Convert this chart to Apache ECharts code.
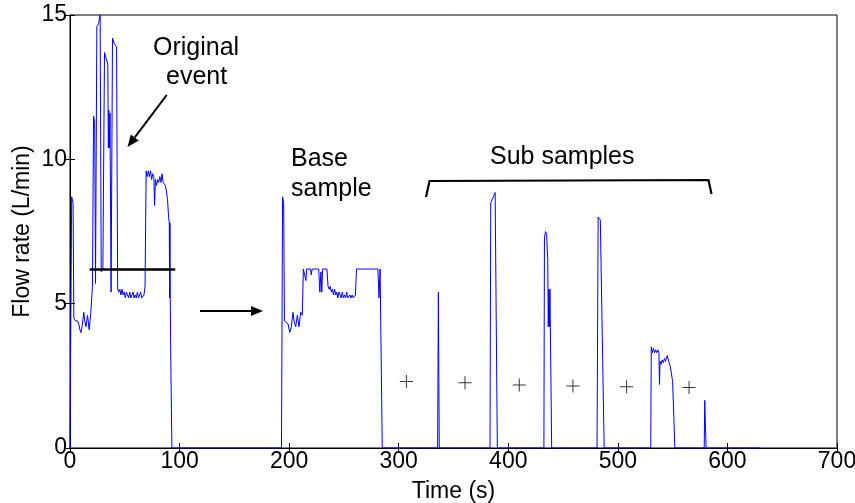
<!DOCTYPE html>
<html>
<head>
<meta charset="utf-8">
<script src="https://cdn.jsdelivr.net/npm/echarts@6/dist/echarts.min.js"></script>
<style>
  html, body { margin: 0; padding: 0; background: #fff; }
  #chart { width: 855px; height: 503px; }
</style>
</head>
<body>
<div id="chart"></div>
<script>
// flow trace: [time (s), flow (L/min)]
const originalEvent = [
  [0,0],[1.5,8.7],[2.8,8.5],[3.5,4.5],[5,4.4],[7,4.4],[8,4.3],[9,4.1],[10,4.0],[11,4.2],
  [12.6,4.7],[13.5,4.4],[14.6,4.2],[16,4.6],[17.5,4.1],[19,4.7],[20.5,5.6],[21.5,11.5],
  [22.5,11.3],[23.3,5.7],[24.5,14.6],[26,14.7],[27.5,15],[28.5,6.1],[30,6.2],[31.5,13.7],
  [33,13.5],[34.5,13.3],[35,10.4],[35.5,11.7],[36,10.4],[36.5,11.6],[37.5,5.4],[38.8,14.2],
  [40.5,14.0],[42.5,13.9],[43.5,5.5],[44.5,5.4],[45.5,5.5],[46.5,5.3],[47.5,5.5],[48.5,5.3],
  [49.5,5.4],[50.5,5.2],[51.5,5.4],[52.5,5.3],[53.5,5.2],[54.5,5.4],[55.5,5.2],[56.5,5.2],
  [57.5,5.4],[58.5,5.2],[59.5,5.3],[60.5,5.2],[61.5,5.4],[62.5,5.2],[63.5,5.2],[64.5,5.4],
  [65.5,5.2],[66.5,5.2],[67.5,5.3],[68.5,5.6],[69.5,9.6],[70.5,9.4],[71.5,9.6],[72.5,9.4],
  [73.5,9.6],[74.5,9.3],[75.5,9.5],[76.5,9.4],[77.2,8.4],[78,9.3],[79,9.1],[80,9.3],[81,9.2],
  [82,9.4],[83,9.2],[84,9.5],[85,9.2],[86,9.2],[87,9.1],[88,8.9],[89,8.6],[90,8.0],[90.6,7.8],
  [90.9,5.2],[91.2,7.8],[91.5,5.2],[92,3.0],[93,0]
];
const baseSample = [
  [193,0],[194,8.7],[195,8.5],[195.7,4.4],[197,4.4],[199,4.3],[200.5,4.0],[202,4.2],[203.5,4.7],
  [204.5,4.4],[206,4.2],[207.5,4.6],[209,4.2],[210.5,4.7],[212,4.6],[213,6.2],[214.5,6.2],
  [215.3,5.8],[216,6.2],[219.5,6.2],[220.2,6.0],[221,6.2],[227,6.2],[228,5.4],[229,6.1],
  [229.8,5.4],[230.6,6.2],[234.5,6.2],[235.5,5.6],[236.5,5.5],[237.5,5.6],[238.5,5.4],
  [239.5,5.5],[240.5,5.3],[241.5,5.5],[242.5,5.3],[243.5,5.4],[244.5,5.2],[245.5,5.4],
  [246.5,5.3],[247.5,5.2],[248.5,5.4],[249.5,5.2],[250.5,5.3],[251.5,5.2],[252.5,5.4],
  [253.5,5.2],[254.5,5.2],[255.5,5.3],[256.5,5.2],[257.5,5.3],[258.5,5.2],[259.5,5.2],
  [260.5,5.3],[261.5,6.2],[281,6.2],[282,5.2],[283,6.2],[283.7,6.2],[285,0]
];
const subSamples = [
  [335.5,0],[336.2,5.4],[337,0],
  [383.3,0],[384,8.5],[385.5,8.55],[387,8.75],[388,8.85],[390,0],
  [432.5,0],[433,7.3],[434,7.5],[435,7.4],[436,6.5],[436.5,4.2],[437,5.5],[437.5,4.2],[438,5.5],[439.6,0],
  [481,0],[482,8.0],[484,7.9],[485.5,7.9],[487.5,0],
  [530,0],[530.5,3.5],[531.5,3.3],[532.5,3.45],[533.5,3.3],[534.5,3.4],[535.5,3.3],[536.5,3.4],
  [537.5,3.3],[538,2.2],[538.5,3.0],[539.5,2.9],[540.5,3.05],[541.5,2.95],[542.5,3.1],[543.5,3.0],
  [545,3.2],[546.5,3.0],[548,2.8],[550,2.3],[552,0],
  [578.8,0],[579.3,1.65],[580.5,0],[630,0]
];
// "+" markers between sub samples
const gapMarks = [[307,2.3],[360.5,2.26],[410,2.18],[459,2.15],[508,2.12],[565,2.1]];
const xTicks = { min: 0, max: 700, interval: 100 };
const yTicks = { min: 0, max: 15, interval: 5 };
const cutLevel = 6.2;

const FONT = "'Liberation Sans', Arial, sans-serif";
const FS = 23;   // axis text
const AFS = 25;  // annotation text

let myChart = echarts.init(document.getElementById('chart'));
const plus = 'path://M6,0H7V6H13V7H7V13H6V7H0V6H6Z';
const tick = { show: true, inside: true, length: 5, lineStyle: { color: '#000', width: 1 } };

const option = {
  backgroundColor: '#fff',
  animation: false,
  grid: {
    left: 70, right: 18, top: 15, bottom: 55,
    outerBoundsMode: 'none', containLabel: false,
    show: true, borderColor: '#000', borderWidth: 1
  },
  textStyle: { fontFamily: FONT },
  xAxis: [
    {
      type: 'value', min: xTicks.min, max: xTicks.max, interval: xTicks.interval,
      name: 'Time (s)', nameLocation: 'middle', nameGap: 32, nameMoveOverlap: false,
      nameTextStyle: { fontSize: FS, color: '#000', fontFamily: FONT },
      axisLine: { show: true, lineStyle: { color: '#000', width: 1 } },
      axisTick: tick,
      axisLabel: { fontSize: FS, color: '#000', margin: 2, fontFamily: FONT },
      splitLine: { show: false }
    },
    {
      type: 'value', position: 'top', min: xTicks.min, max: xTicks.max, interval: xTicks.interval,
      axisLine: { show: true, lineStyle: { color: '#000' } }, axisTick: tick,
      axisLabel: { show: false }, splitLine: { show: false }
    }
  ],
  yAxis: [
    {
      type: 'value', min: yTicks.min, max: yTicks.max, interval: yTicks.interval,
      name: 'Flow rate (L/min)', nameLocation: 'middle', nameGap: 36, nameRotate: 90,
      nameMoveOverlap: false,
      nameTextStyle: { fontSize: FS, color: '#000', fontFamily: FONT },
      axisLine: { show: true, lineStyle: { color: '#000', width: 1 } },
      axisTick: tick,
      axisLabel: { fontSize: FS, color: '#000', margin: 3, fontFamily: FONT },
      splitLine: { show: false }
    },
    {
      type: 'value', position: 'right', min: yTicks.min, max: yTicks.max, interval: yTicks.interval,
      axisLine: { show: true, lineStyle: { color: '#000' } }, axisTick: tick,
      axisLabel: { show: false }, splitLine: { show: false }
    }
  ],
  series: [
    {
      name: 'flow', type: 'line', showSymbol: false, symbol: 'none',
      data: originalEvent.concat(baseSample, subSamples),
      lineStyle: { color: '#0000ff', width: 1 },
      markLine: {
        silent: true, symbol: 'none', label: { show: false },
        lineStyle: { color: '#000', width: 2.5, type: 'solid' },
        data: [[{ coord: [18, cutLevel] }, { coord: [96, cutLevel] }]]
      }
    },
    {
      name: 'gaps', type: 'scatter', data: gapMarks,
      symbol: plus, symbolSize: 13,
      itemStyle: { color: '#000' }
    }
  ],
  graphic: [
    { type: 'text', left: 153, top: 36, style: { text: 'Original', font: AFS + 'px ' + FONT, fill: '#000' } },
    { type: 'text', left: 166, top: 65, style: { text: 'event', font: AFS + 'px ' + FONT, fill: '#000' } },
    { type: 'line', shape: { x1: 166.7, y1: 95, x2: 134.8, y2: 137.4 }, style: { stroke: '#000', lineWidth: 2 } },
    { type: 'polygon', shape: { points: [[127.5, 147], [138.7, 140.5], [130.8, 134.4]] }, style: { fill: '#000' } },
    { type: 'text', left: 291, top: 147, style: { text: 'Base', font: AFS + 'px ' + FONT, fill: '#000' } },
    { type: 'text', left: 291, top: 177, style: { text: 'sample', font: AFS + 'px ' + FONT, fill: '#000' } },
    { type: 'line', shape: { x1: 200, y1: 311, x2: 252, y2: 311 }, style: { stroke: '#000', lineWidth: 2 } },
    { type: 'polygon', shape: { points: [[263, 311], [251, 306], [251, 316]] }, style: { fill: '#000' } },
    { type: 'text', left: 490, top: 145, style: { text: 'Sub samples', font: AFS + 'px ' + FONT, fill: '#000' } },
    { type: 'polyline', shape: { points: [[426, 197], [429.5, 181], [708.5, 180], [711.5, 194]] }, style: { stroke: '#000', lineWidth: 2.2, fill: null } }
  ]
};
myChart.setOption(option);
</script>
</body>
</html>
